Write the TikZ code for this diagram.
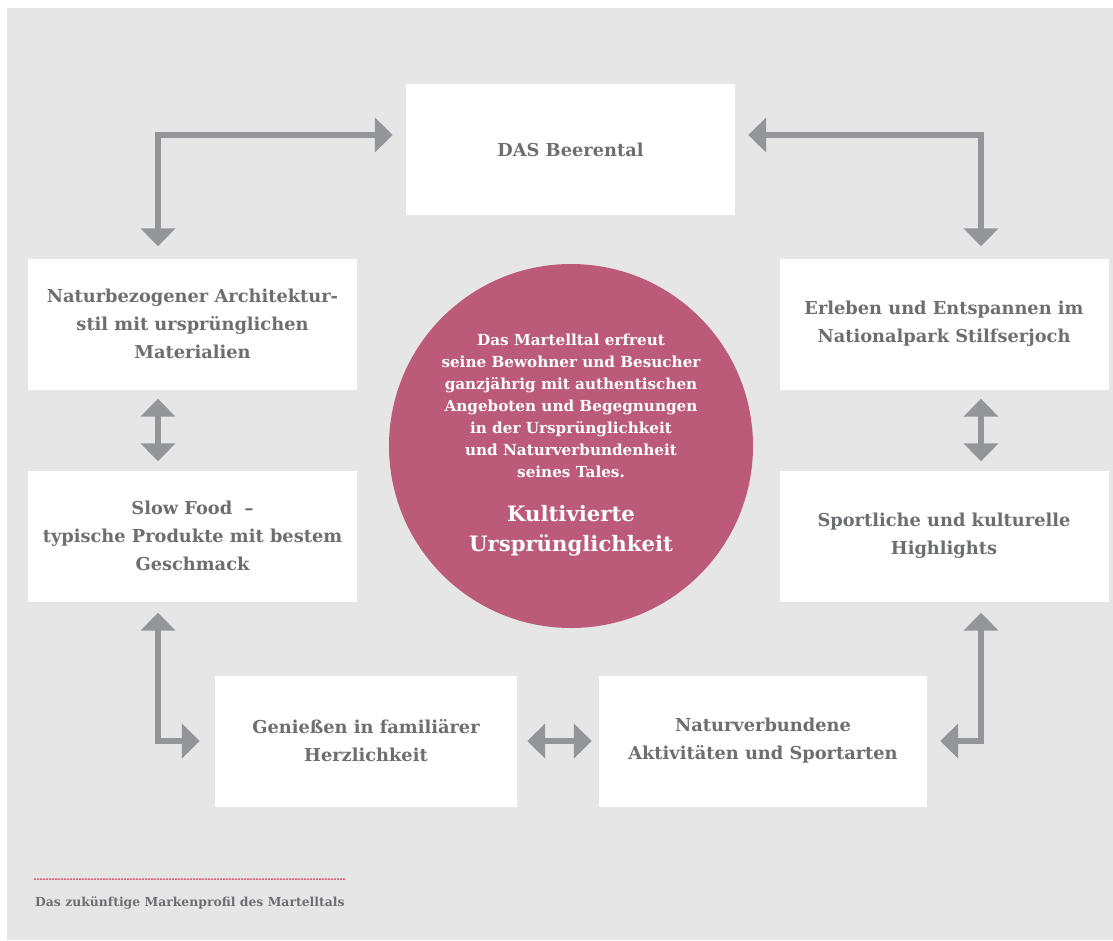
\documentclass[tikz,border=0pt]{standalone}
\usepackage{fontspec}
\setmainfont{DejaVu Serif}
\usetikzlibrary{arrows.meta}
\definecolor{panel}{HTML}{E6E6E6}
\definecolor{arrowgrey}{HTML}{939598}
\definecolor{textgrey}{HTML}{6D6E71}
\definecolor{berry}{HTML}{BC5B79}
\definecolor{dotred}{HTML}{D42E55}
\begin{document}
\begin{tikzpicture}[x=1pt,y=-1pt,
  >={Triangle[width=34pt,length=18pt]},
  box/.style={fill=white, minimum width=329pt, minimum height=131pt,
    align=center, text=textgrey, inner sep=0pt,
    font=\bfseries\fontsize{17.8}{28}\selectfont},
  conn/.style={draw=arrowgrey, line width=6.5pt, <->}]
  % canvas and grey panel
  \useasboundingbox (0,0) rectangle (1113,940);
  \fill[white] (0,0) rectangle (1113,940);
  \fill[panel] (7,8) rectangle (1113,940);

  % boxes
  \node[box] (beer)  at (570.5,149.5) {DAS Beerental};
  \node[box] (arch)  at (192.5,324) {Naturbezogener Architektur-\\stil mit ursprünglichen\\Materialien};
  \node[box] (slow)  at (192.5,536) {Slow Food \ –\\typische Produkte mit bestem\\Geschmack};
  \node[box, minimum width=302pt] (geni) at (366,741) {Genießen in familiärer\\Herzlichkeit};
  \node[box, minimum width=328pt] (natur) at (763,741) {Naturverbundene\\Aktivitäten und Sportarten};
  \node[box] (erleb) at (944,324) {Erleben und Entspannen im\\Nationalpark Stilfserjoch};
  \node[box] (sport) at (944,536) {Sportliche und kulturelle\\Highlights};

  % central circle
  \node[circle, fill=berry, minimum size=364pt, inner sep=0pt] (core) at (571,446) {};
  \node[text=white, align=center, font=\bfseries\fontsize{15.2}{22}\selectfont] (claim) at (571,406)
    {Das Martelltal erfreut\\seine Bewohner und Besucher\\ganzjährig mit authentischen\\Angeboten und Begegnungen\\in der Ursprünglichkeit\\und Naturverbundenheit\\seines Tales.};
  \node[text=white, align=center, font=\bfseries\fontsize{21.2}{30}\selectfont] (title) at (571,531)
    {Kultivierte\\Ursprünglichkeit};

  % connectors
  \draw[conn] ([shift={(-34.5,-12)}]arch.north) |- ([shift={(-13,-14.5)}]beer.west);
  \draw[conn] ([shift={(13,-14.5)}]beer.east) -| ([shift={(37,-12)}]erleb.north);
  \draw[conn] ([shift={(-34.5,9)}]arch.south) -- ([shift={(-34.5,-9)}]slow.north);
  \draw[conn] ([shift={(37,9)}]erleb.south) -- ([shift={(37,-9)}]sport.north);
  \draw[conn] ([shift={(-34.5,11)}]slow.south) |- ([xshift=-15]geni.west);
  \draw[conn] ([xshift=10]geni.east) -- ([xshift=-7]natur.west);
  \draw[conn] ([shift={(37,11)}]sport.south) |- ([xshift=13]natur.east);

  % caption
  \node[anchor=west, text=textgrey, inner sep=0pt, font=\bfseries\fontsize{12.4}{14}\selectfont] (caption) at (35,903)
    {Das zukünftige Markenprofil des Martelltals};
  \draw[dotred, line width=2pt, line cap=round, dash pattern=on 0pt off 3pt]
    ([yshift=24pt]caption.west) -- ++(311,0);
\end{tikzpicture}
\end{document}
